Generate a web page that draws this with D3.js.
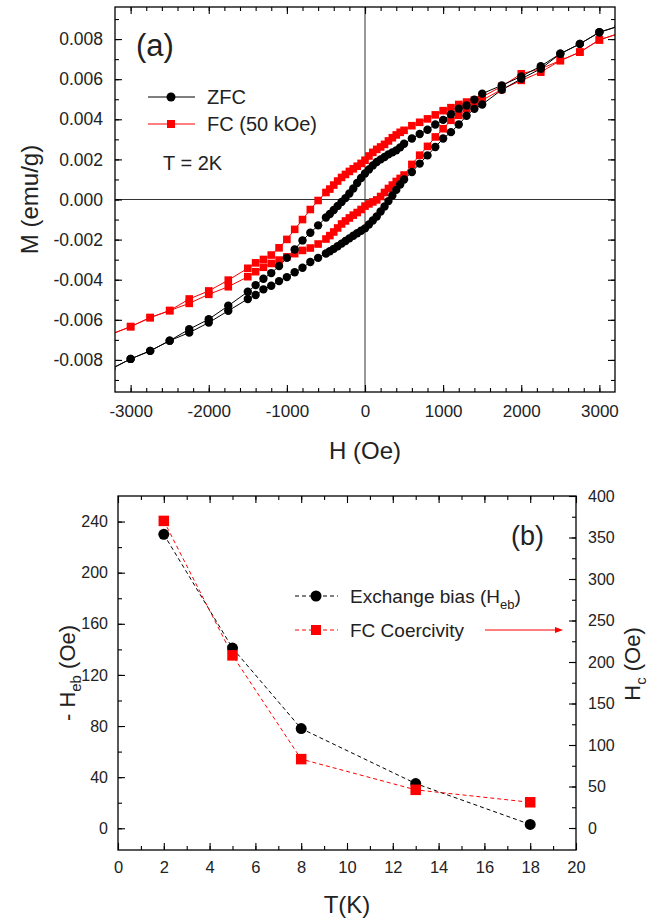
<!DOCTYPE html>
<html>
<head>
<meta charset="utf-8">
<script src="https://cdn.jsdelivr.net/npm/d3@7"></script>
<style>
body { margin: 0; background: #fff; }
svg text { font-family: "Liberation Sans", Arial, sans-serif; fill: #222; }
</style>
</head>
<body>
<svg id="fig" width="668" height="918"></svg>
<script>
// ---- panel (a): M-H loops at 2K, M in 1e-3 emu/g ----
var hField = [-3250, -3000, -2750, -2500, -2250, -2000, -1750, -1500,
  -1400, -1300, -1200, -1100, -1000, -900, -800, -700, -600,
  -500, -450, -400, -350, -300, -250, -200, -150, -100, -50, 0, 50, 100, 150, 200, 250, 300, 350, 400, 450, 500,
  600, 700, 800, 900, 1000, 1100, 1200, 1300, 1400,
  1500, 1750, 2000, 2250, 2500, 2750, 3000, 3250];

// branch coming down from +H
var zfcDown = [-8.45, -7.95, -7.55, -7.04, -6.47, -5.97, -5.30, -4.60,
  -4.27, -3.95, -3.67, -3.32, -2.91, -2.49, -2.04, -1.66, -1.29,
  -0.90, -0.72, -0.52, -0.32, -0.12, 0.07, 0.30, 0.55, 0.82, 1.07, 1.30, 1.50, 1.70, 1.87, 2.00, 2.12, 2.25, 2.35, 2.45, 2.60, 2.78,
  3.04, 3.27, 3.48, 3.74, 3.97, 4.25, 4.53, 4.69, 4.98,
  5.28, 5.69, 6.14, 6.65, 7.27, 7.76, 8.34, 8.65];
// branch going up from -H
var zfcUp = [-8.45, -7.95, -7.55, -7.04, -6.64, -6.14, -5.55, -4.96,
  -4.76, -4.48, -4.30, -4.07, -3.87, -3.63, -3.40, -3.12, -2.91,
  -2.69, -2.58, -2.46, -2.33, -2.20, -2.07, -1.94, -1.81, -1.68, -1.56, -1.44, -1.25, -1.05, -0.85, -0.60, -0.35, -0.08, 0.20, 0.48, 0.75, 1.00,
  1.37, 1.79, 2.20, 2.62, 3.04, 3.36, 3.74, 4.18, 4.52,
  4.74, 5.47, 6.02, 6.52, 7.27, 7.76, 8.34, 8.65];

var fcDown = [-6.72, -6.34, -5.89, -5.54, -4.96, -4.56, -4.02, -3.43,
  -3.16, -2.99, -2.77, -2.41, -1.99, -1.49, -1.00, -0.50, -0.05,
  0.35, 0.52, 0.72, 0.92, 1.10, 1.25, 1.40, 1.53, 1.66, 1.80, 1.96, 2.17, 2.35, 2.50, 2.62, 2.75, 2.92, 3.08, 3.22, 3.35, 3.45,
  3.68, 3.85, 4.02, 4.22, 4.43, 4.58, 4.74, 4.86, 4.96,
  5.12, 5.64, 6.27, 6.52, 6.93, 7.35, 7.96, 8.28];
var fcUp = [-6.72, -6.34, -5.89, -5.54, -5.18, -4.73, -4.35, -3.85,
  -3.60, -3.38, -3.19, -3.02, -2.86, -2.70, -2.54, -2.42, -2.22,
  -1.97, -1.80, -1.62, -1.42, -1.22, -1.07, -0.92, -0.78, -0.65, -0.50, -0.33, -0.22, -0.12, -0.02, 0.15, 0.35, 0.55, 0.72, 0.90, 1.05, 1.22,
  1.75, 2.21, 2.65, 3.12, 3.53, 3.95, 4.20, 4.53, 4.78,
  4.95, 5.49, 5.94, 6.35, 6.93, 7.35, 7.96, 8.28];

// ---- panel (b) ----
var temps = [2, 5, 8, 13, 18];
var hEb = [230, 141, 78, 35, 3];
var hCoer = [370, 208, 83, 46, 31];

var FONT = '"Liberation Sans", Arial, sans-serif';
var RED = '#ff0000';
var svg = d3.select('#fig');

function addAxis(orient, scale, pos, major, minor, fmt, pad, fontSize) {
    var make = { bottom: d3.axisBottom, top: d3.axisTop, left: d3.axisLeft, right: d3.axisRight }[orient];
    var tr = (orient == 'bottom' || orient == 'top') ? 'translate(0,' + pos + ')' : 'translate(' + pos + ',0)';

    var gMinor = svg.append('g')
        .attr('transform', tr)
        .call(make(scale).tickValues(minor).tickSize(-4).tickFormat(''));
    var gMajor = svg.append('g')
        .attr('transform', tr)
        .call(make(scale).tickValues(major).tickSize(-7).tickPadding(pad || 0).tickFormat(fmt || ''));

    [gMinor, gMajor].forEach(g => {
        g.select('.domain').remove();
        g.attr('font-family', FONT).attr('color', '#000');
        g.selectAll('line').attr('stroke-width', 1.1);
    });
    gMajor.selectAll('text').attr('fill', '#222').style('font-size', (fontSize || 17) + 'px');
}

function frame(box) {
    svg.append('rect')
        .attr('x', box.left).attr('y', box.top)
        .attr('width', box.right - box.left).attr('height', box.bottom - box.top)
        .attr('fill', 'none').attr('stroke', '#000').attr('stroke-width', 1.3);
}

function square(sel, size) {
    return sel.append('rect')
        .attr('width', size).attr('height', size)
        .attr('fill', RED);
}

/// PANEL A
var a = { left: 115, right: 615, top: 7, bottom: 392 };
var xA = d3.scaleLinear().domain([-3200, 3200]).range([a.left, a.right]);
var yA = d3.scaleLinear().domain([-0.0096, 0.0096]).range([a.bottom, a.top]);

svg.append('clipPath').attr('id', 'clipA')
    .append('rect')
    .attr('x', a.left).attr('y', a.top)
    .attr('width', a.right - a.left).attr('height', a.bottom - a.top);

// zero lines
svg.append('line')
    .attr('x1', xA(0)).attr('x2', xA(0)).attr('y1', a.top).attr('y2', a.bottom)
    .attr('stroke', '#333').attr('stroke-width', 1);
svg.append('line')
    .attr('x1', a.left).attr('x2', a.right).attr('y1', yA(0)).attr('y2', yA(0))
    .attr('stroke', '#333').attr('stroke-width', 1);

var xMajorA = d3.range(-3000, 3001, 1000);
var xMinorA = d3.range(-3000, 3001, 200);
var yMajorA = d3.range(-8, 9, 2).map(v => v / 1000);
var yMinorA = d3.range(-9, 10, 1).map(v => v / 1000);

addAxis('bottom', xA, a.bottom, xMajorA, xMinorA, d => String(d), 13, 17);
addAxis('top', xA, a.top, xMajorA, xMinorA);
addAxis('left', yA, a.left, yMajorA, yMinorA, d => d.toFixed(3), 12, 17.5);
addAxis('right', yA, a.right, yMajorA, yMinorA);

var loopLine = d3.line()
    .x(d => xA(d.h))
    .y(d => yA(d.m));

function toPoints(m) {
    return hField.map((h, i) => ({ h: h, m: m[i] / 1000 }));
}

var plotA = svg.append('g').attr('clip-path', 'url(#clipA)');

var series = [
    { branches: [fcDown, fcUp], color: RED, kind: 'square' },
    { branches: [zfcDown, zfcUp], color: '#000', kind: 'circle' }
];

series.forEach(s => {
    s.branches.forEach(b => {
        plotA.append('path')
            .datum(toPoints(b))
            .attr('d', loopLine)
            .attr('fill', 'none')
            .attr('stroke', s.color)
            .attr('stroke-width', 1);
    });
});

series.forEach(s => {
    s.branches.forEach(b => {
        var sel = plotA.selectAll(null).data(toPoints(b)).enter();
        if (s.kind == 'circle') {
            sel.append('circle')
                .attr('cx', d => xA(d.h)).attr('cy', d => yA(d.m))
                .attr('r', 4.2).attr('fill', '#000');
        } else {
            square(sel, 7.6)
                .attr('x', d => xA(d.h) - 3.8).attr('y', d => yA(d.m) - 3.8);
        }
    });
});

// legend (a)
svg.append('line').attr('x1', 148).attr('x2', 195).attr('y1', 97).attr('y2', 97).attr('stroke', '#000');
svg.append('circle').attr('cx', 171).attr('cy', 97).attr('r', 4.5).attr('fill', '#000');
svg.append('line').attr('x1', 148).attr('x2', 195).attr('y1', 124).attr('y2', 124).attr('stroke', RED);
square(svg, 8).attr('x', 167).attr('y', 120);

svg.append('text').attr('x', 207).attr('y', 104).style('font-size', '20px').text('ZFC');
svg.append('text').attr('x', 207).attr('y', 131).style('font-size', '20px').text('FC (50 kOe)');
svg.append('text').attr('x', 163).attr('y', 170).style('font-size', '20px').text('T = 2K');
svg.append('text').attr('x', 136).attr('y', 56).style('font-size', '31px').text('(a)');

svg.append('text')
    .attr('x', xA(0)).attr('y', 459)
    .style('text-anchor', 'middle').style('font-size', '24px')
    .text('H (Oe)');
svg.append('text')
    .attr('transform', 'translate(38,' + yA(0) + ') rotate(-90)')
    .style('text-anchor', 'middle').style('font-size', '24px')
    .text('M (emu/g)');

frame(a);

/// PANEL B
var b = { left: 118, right: 576, top: 496, bottom: 850 };
var xB = d3.scaleLinear().domain([0, 20]).range([b.left, b.right]);
var yL = d3.scaleLinear().domain([-17, 260]).range([b.bottom, b.top]);
var yR = d3.scaleLinear().domain([-26.5, 400]).range([b.bottom, b.top]);

addAxis('bottom', xB, b.bottom, d3.range(0, 21, 2), d3.range(1, 20, 1), d => String(d), 11, 16.5);
addAxis('top', xB, b.top, d3.range(0, 21, 2), d3.range(1, 20, 1));
addAxis('left', yL, b.left, d3.range(0, 241, 40), d3.range(0, 241, 20), d => String(d), 10, 16);
addAxis('right', yR, b.right, d3.range(0, 401, 50), d3.range(0, 400, 25), d => String(d), 12, 16);

var ebData = temps.map((t, i) => ({ t: t, v: hEb[i] }));
var hcData = temps.map((t, i) => ({ t: t, v: hCoer[i] }));

svg.append('path')
    .datum(ebData)
    .attr('d', d3.line().x(d => xB(d.t)).y(d => yL(d.v)))
    .attr('fill', 'none').attr('stroke', '#000').attr('stroke-width', 1)
    .attr('stroke-dasharray', '4,3');
svg.append('path')
    .datum(hcData)
    .attr('d', d3.line().x(d => xB(d.t)).y(d => yR(d.v)))
    .attr('fill', 'none').attr('stroke', RED).attr('stroke-width', 1)
    .attr('stroke-dasharray', '4,3');

svg.selectAll('.eb')
    .data(ebData)
    .enter()
    .append('circle')
    .attr('class', 'eb')
    .attr('cx', d => xB(d.t)).attr('cy', d => yL(d.v))
    .attr('r', 5.5).attr('fill', '#000');

square(svg.selectAll('.hc').data(hcData).enter(), 10.5)
    .attr('class', 'hc')
    .attr('x', d => xB(d.t) - 5.25).attr('y', d => yR(d.v) - 5.25);

// legend (b)
svg.append('line').attr('x1', 295).attr('x2', 338).attr('y1', 596).attr('y2', 596)
    .attr('stroke', '#000').attr('stroke-dasharray', '4,3');
svg.append('circle').attr('cx', 316).attr('cy', 596).attr('r', 5.5).attr('fill', '#000');
svg.append('line').attr('x1', 295).attr('x2', 338).attr('y1', 630).attr('y2', 630)
    .attr('stroke', RED).attr('stroke-dasharray', '4,3');
square(svg, 10).attr('x', 311).attr('y', 625);

var leg1 = svg.append('text').attr('x', 350).attr('y', 603).style('font-size', '19px');
leg1.append('tspan').text('Exchange bias (H');
leg1.append('tspan').attr('dy', 6).style('font-size', '13px').text('eb');
leg1.append('tspan').attr('dy', -6).text(')');
svg.append('text').attr('x', 350).attr('y', 637).style('font-size', '19px').text('FC Coercivity');

// arrow pointing to right axis
svg.append('line').attr('x1', 485).attr('x2', 556).attr('y1', 630).attr('y2', 630)
    .attr('stroke', RED).attr('stroke-width', 1.2);
svg.append('path').attr('d', 'M555,627 L563,630 L555,633 Z').attr('fill', RED);

svg.append('text').attr('x', 511).attr('y', 545).style('font-size', '27px').text('(b)');

svg.append('text')
    .attr('x', xB(10)).attr('y', 913)
    .style('text-anchor', 'middle').style('font-size', '24px')
    .text('T(K)');

var yl = svg.append('text')
    .attr('transform', 'translate(75,673) rotate(-90)')
    .style('text-anchor', 'middle').style('font-size', '22px');
yl.append('tspan').text('- H');
yl.append('tspan').attr('dy', 6).style('font-size', '15px').text('eb');
yl.append('tspan').attr('dy', -6).text(' (Oe)');

var yr = svg.append('text')
    .attr('transform', 'translate(640,664) rotate(-90)')
    .style('text-anchor', 'middle').style('font-size', '22px');
yr.append('tspan').text('H');
yr.append('tspan').attr('dy', 6).style('font-size', '15px').text('c');
yr.append('tspan').attr('dy', -6).text(' (Oe)');

frame(b);
</script>
</body>
</html>
